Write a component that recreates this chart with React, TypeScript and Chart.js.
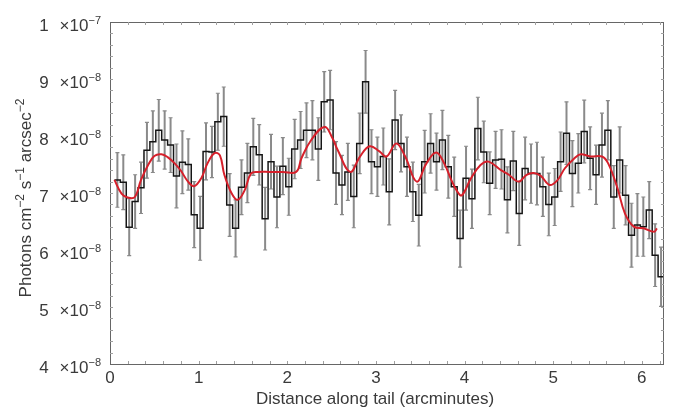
import React, { useEffect, useRef } from "react";
import { Chart, registerables } from "chart.js";

Chart.register(...registerables);

// Histogram bins: 4-arcsec bins (1/15 arcmin) starting at 0.05 arcmin
const BIN_START = 0.05;
const BIN_WIDTH = 1 / 15;

// Surface brightness per bin, in units of 1e-8 photons cm^-2 s^-1 arcsec^-2
const binValues = [
  7.23, 7.19, 6.40, 6.85, 7.09, 7.75, 7.90, 8.10, 7.93, 7.84,
  7.30, 7.54, 7.50, 6.62, 6.38, 7.73, 7.72, 8.25, 8.34, 6.79,
  6.38, 7.10, 7.35, 7.81, 7.67, 6.55, 7.55, 6.93, 7.47, 7.11,
  7.77, 7.93, 8.10, 8.10, 7.77, 8.60, 8.63, 7.35, 7.14, 7.37,
  6.94, 7.87, 8.95, 7.55, 7.46, 7.64, 7.02, 8.28, 7.87, 7.46,
  7.02, 6.61, 7.55, 7.87, 7.55, 7.93, 7.46, 7.11, 6.20, 7.26,
  6.90, 8.13, 7.72, 7.17, 7.58, 7.59, 6.88, 7.56, 6.64, 7.43,
  7.34, 7.34, 7.11, 6.80, 6.93, 7.55, 8.05, 7.34, 7.52, 8.08,
  7.61, 7.32, 7.84, 8.10, 6.93, 7.58, 6.96, 6.26, 6.44, 6.41,
  6.70, 5.91, 5.53,
];

// 1-sigma error per bin (same units)
const binErrors = [
  0.48, 0.48, 0.50, 0.47, 0.45, 0.49, 0.54, 0.54, 0.51, 0.48,
  0.56, 0.55, 0.45, 0.58, 0.56, 0.50, 0.45, 0.50, 0.52, 0.55,
  0.50, 0.48, 0.52, 0.50, 0.53, 0.55, 0.48, 0.54, 0.50, 0.50,
  0.52, 0.50, 0.48, 0.52, 0.55, 0.53, 0.52, 0.55, 0.52, 0.50,
  0.55, 0.53, 0.55, 0.56, 0.52, 0.50, 0.58, 0.52, 0.50, 0.52,
  0.52, 0.54, 0.55, 0.52, 0.50, 0.52, 0.55, 0.52, 0.50, 0.56,
  0.52, 0.55, 0.54, 0.55, 0.50, 0.52, 0.58, 0.52, 0.56, 0.55,
  0.52, 0.55, 0.52, 0.55, 0.50, 0.52, 0.55, 0.58, 0.52, 0.55,
  0.55, 0.52, 0.56, 0.52, 0.55, 0.58, 0.52, 0.56, 0.55, 0.52,
  0.50, 0.55, 0.52,
];

// Smoothed profile (red curve)
const smoothX = [
  0.05, 0.13, 0.20, 0.28, 0.35, 0.43, 0.50, 0.58, 0.65, 0.73,
  0.80, 0.88, 0.95, 1.03, 1.10, 1.18, 1.24, 1.29, 1.37, 1.44,
  1.52, 1.59, 1.67, 1.80, 1.95, 2.10, 2.16, 2.27, 2.42, 2.51,
  2.57, 2.71, 2.82, 2.93, 3.04, 3.12, 3.23, 3.33, 3.46, 3.57,
  3.68, 3.77, 3.85, 3.92, 3.97, 4.07, 4.18, 4.27, 4.41, 4.50,
  4.61, 4.70, 4.78, 4.86, 4.96, 5.05, 5.13, 5.24, 5.31, 5.42,
  5.55, 5.62, 5.72, 5.81, 5.91, 6.02, 6.14, 6.17,
];
const smoothY = [
  7.23, 6.99, 6.92, 6.93, 7.23, 7.49, 7.65, 7.68, 7.63, 7.52,
  7.39, 7.20, 7.12, 7.26, 7.52, 7.70, 7.66, 7.32, 7.00, 6.88,
  7.05, 7.34, 7.37, 7.37, 7.37, 7.37, 7.61, 7.93, 8.16, 7.96,
  7.75, 7.37, 7.64, 7.82, 7.73, 7.64, 7.87, 7.64, 7.20, 7.52,
  7.71, 7.52, 7.23, 7.02, 6.96, 7.25, 7.49, 7.55, 7.40, 7.32,
  7.20, 7.32, 7.35, 7.30, 7.14, 7.23, 7.43, 7.61, 7.68, 7.64,
  7.64, 7.52, 7.11, 6.64, 6.41, 6.38, 6.32, 6.38,
];

// Axis ticks
const xTicks = [0, 1, 2, 3, 4, 5, 6];
const yTicks = [4, 5, 6, 7, 8, 9, 10];
const yTickMantissa = ["4", "5", "6", "7", "8", "9", "1"];
const yTickExponent = ["\u22128", "\u22128", "\u22128", "\u22128", "\u22128", "\u22128", "\u22127"];

const X_MIN = 0;
const X_MAX = 6.25;
const Y_MIN = 4;
const Y_MAX = 10;

const FONT = '"Liberation Sans", Arial, Helvetica, sans-serif';
const TEXT = "#3a3a3a";

const errorBarPlugin = {
  id: "errorBars",
  beforeDatasetsDraw(chart: any) {
    const { ctx, chartArea, scales } = chart;
    const x = scales.x;
    const y = scales.y;
    ctx.save();
    ctx.beginPath();
    ctx.rect(chartArea.left, chartArea.top, chartArea.right - chartArea.left, chartArea.bottom - chartArea.top);
    ctx.clip();
    ctx.strokeStyle = "#8a8a8a";
    binValues.forEach((v, i) => {
      const cx = x.getPixelForValue(BIN_START + (i + 0.5) * BIN_WIDTH);
      const top = y.getPixelForValue(v + binErrors[i]);
      const bot = y.getPixelForValue(v - binErrors[i]);
      ctx.lineWidth = 2;
      ctx.beginPath();
      ctx.moveTo(cx, top);
      ctx.lineTo(cx, bot);
      ctx.stroke();
      ctx.lineWidth = 1.2;
      ctx.beginPath();
      ctx.moveTo(cx - 2, top);
      ctx.lineTo(cx + 2, top);
      ctx.moveTo(cx - 2, bot);
      ctx.lineTo(cx + 2, bot);
      ctx.stroke();
    });
    ctx.restore();
  },
};

function drawPiecewise(ctx: CanvasRenderingContext2D, pieces: { t: string; sup?: boolean }[], startX: number, baseY: number, size: number, supSize: number) {
  let px = startX;
  for (const p of pieces) {
    ctx.font = `${p.sup ? supSize : size}px ${FONT}`;
    ctx.fillText(p.t, px, p.sup ? baseY - size * 0.42 : baseY);
    px += ctx.measureText(p.t).width;
  }
}

function piecesWidth(ctx: CanvasRenderingContext2D, pieces: { t: string; sup?: boolean }[], size: number, supSize: number) {
  let w = 0;
  for (const p of pieces) {
    ctx.font = `${p.sup ? supSize : size}px ${FONT}`;
    w += ctx.measureText(p.t).width;
  }
  return w;
}

const axesPlugin = {
  id: "axesFrame",
  afterDraw(chart: any) {
    const { ctx, chartArea, scales } = chart;
    const x = scales.x;
    const y = scales.y;
    const { left, right, top, bottom } = chartArea;
    ctx.save();
    // frame
    ctx.strokeStyle = "#666666";
    ctx.lineWidth = 1;
    ctx.strokeRect(left + 0.5, top + 0.5, right - left - 1, bottom - top);
    // minor ticks every 0.2
    ctx.strokeStyle = "#a0a0a0";
    ctx.beginPath();
    for (let k = 1; k * 0.2 < X_MAX; k++) {
      const px = Math.round(x.getPixelForValue(k * 0.2)) + 0.5;
      ctx.moveTo(px, bottom);
      ctx.lineTo(px, bottom - 3);
      ctx.moveTo(px, top);
      ctx.lineTo(px, top + 3);
    }
    for (let k = 1; k < 30; k++) {
      const py = Math.round(y.getPixelForValue(Y_MIN + k * 0.2)) + 0.5;
      ctx.moveTo(left, py);
      ctx.lineTo(left + 3, py);
      ctx.moveTo(right, py);
      ctx.lineTo(right - 3, py);
    }
    ctx.stroke();

    // x tick labels
    ctx.fillStyle = TEXT;
    ctx.font = `17px ${FONT}`;
    ctx.textAlign = "center";
    ctx.textBaseline = "alphabetic";
    xTicks.forEach((t) => {
      ctx.fillText(String(t), x.getPixelForValue(t), 383);
    });

    // y tick labels: "m ×10^e"
    yTicks.forEach((t, i) => {
      const ty = y.getPixelForValue(t);
      const rightEdge = 101;
      ctx.textAlign = "left";
      ctx.font = `11px ${FONT}`;
      const ew = ctx.measureText(yTickExponent[i]).width;
      ctx.fillText(yTickExponent[i], rightEdge - ew, ty + 2);
      ctx.font = `17px ${FONT}`;
      const bw = ctx.measureText("\u00d710").width;
      ctx.fillText("\u00d710", rightEdge - ew - bw, ty + 8.5);
      ctx.textAlign = "right";
      ctx.fillText(yTickMantissa[i], rightEdge - ew - bw - 11, ty + 8.5);
    });

    // x title
    ctx.textAlign = "center";
    ctx.font = `17px ${FONT}`;
    ctx.fillText("Distance along tail (arcminutes)", 375, 404);

    // y title (rotated)
    const pieces = [
      { t: "Photons cm" },
      { t: "\u22122", sup: true },
      { t: " s" },
      { t: "\u22121", sup: true },
      { t: " arcsec" },
      { t: "\u22122", sup: true },
    ];
    ctx.textAlign = "left";
    const w = piecesWidth(ctx, pieces, 17, 12);
    ctx.translate(31, 198);
    ctx.rotate(-Math.PI / 2);
    drawPiecewise(ctx, pieces, -w / 2, 0, 17, 12);
    ctx.restore();
  },
};

export default function App() {
  const canvasRef = useRef<HTMLCanvasElement | null>(null);

  useEffect(() => {
    if (!canvasRef.current) return;
    const stepData = binValues.map((v, i) => ({ x: BIN_START + i * BIN_WIDTH, y: v }));
    stepData.push({ x: BIN_START + binValues.length * BIN_WIDTH, y: binValues[binValues.length - 1] });
    const smoothData = smoothX.map((xv, i) => ({ x: xv, y: smoothY[i] }));

    const chart = new Chart(canvasRef.current, {
      type: "line",
      data: {
        datasets: [
          {
            data: smoothData,
            borderColor: "#d6202b",
            borderWidth: 2,
            pointRadius: 0,
            tension: 0.4,
            fill: false,
            order: 0,
          },
          {
            data: stepData,
            stepped: "before",
            borderColor: "#151515",
            borderWidth: 1.5,
            pointRadius: 0,
            fill: false,
            order: 1,
          },
        ],
      },
      options: {
        animation: false,
        responsive: false,
        events: [],
        layout: { padding: { left: 110, right: 9, top: 22, bottom: 45 } },
        plugins: { legend: { display: false }, tooltip: { enabled: false } },
        scales: {
          x: { type: "linear", min: X_MIN, max: X_MAX, display: false },
          y: { type: "linear", min: Y_MIN, max: Y_MAX, display: false },
        },
      },
      plugins: [errorBarPlugin, axesPlugin],
    } as any);
    return () => chart.destroy();
  }, []);

  return (
    <div style={{ position: "absolute", left: 0, top: 0, width: 673, height: 409, background: "#ffffff" }}>
      <canvas ref={canvasRef} width={673} height={409} />
    </div>
  );
}
